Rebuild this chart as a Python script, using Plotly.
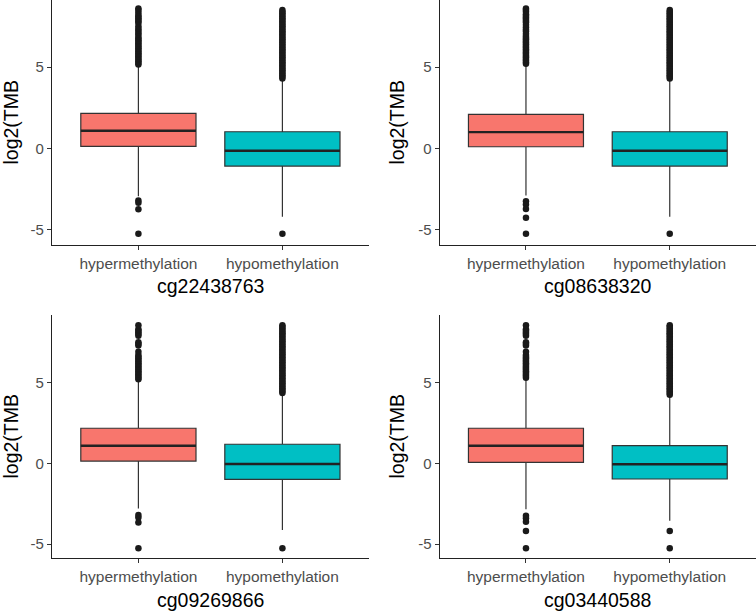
import plotly.graph_objects as go

# ---------------- data ----------------
panels = ["cg22438763", "cg08638320", "cg09269866", "cg03440588"]
groups = ["hypermethylation", "hypomethylation"]
colors = ["#F8766D", "#00BFC4"]

# box statistics per panel: [hyper, hypo]
q1 = [[0.12, -1.09], [0.10, -1.09], [0.14, -0.99], [0.06, -0.97]]
med = [[1.08, -0.15], [1.00, -0.15], [1.09, -0.04], [1.09, -0.06]]
q3 = [[2.15, 1.02], [2.09, 1.02], [2.17, 1.18], [2.17, 1.09]]
lowf = [[-2.95, -4.20], [-2.90, -4.20], [-2.80, -4.13], [-2.85, -3.55]]
upf = [[5.10, 4.25], [5.15, 4.20], [5.15, 4.30], [5.25, 4.22]]

# outliers per panel: [hyper, hypo]
out_p1_hyper = [5.15, 5.25, 5.35, 5.45, 5.55, 5.65, 5.75, 5.85, 5.95, 6.05, 6.15, 6.25,
                6.35, 6.45, 6.55, 6.65, 6.75, 6.85, 7.0, 7.1, 7.25, 7.35, 7.5, 7.7, 7.8,
                7.9, 8.0, 8.1, 8.2, 8.35, 8.5, 8.6, -3.2, -3.35, -3.75, -5.25]
out_p1_hypo = [4.3, 4.4, 4.5, 4.6, 4.7, 4.8, 4.9, 5.0, 5.1, 5.2, 5.3, 5.4, 5.5, 5.6,
               5.7, 5.8, 5.9, 6.0, 6.1, 6.2, 6.3, 6.4, 6.5, 6.6, 6.7, 6.8, 6.9, 7.0,
               7.1, 7.2, 7.3, 7.4, 7.5, 7.6, 7.7, 7.8, 7.9, 8.0, 8.1, 8.2, 8.3, 8.4,
               8.5, -5.25]
out_p2_hyper = [5.2, 5.3, 5.4, 5.5, 5.6, 5.7, 5.8, 5.9, 6.0, 6.1, 6.2, 6.3, 6.4, 6.5,
                6.6, 6.7, 6.8, 6.9, 7.05, 7.2, 7.3, 7.45, 7.6, 7.75, 7.85, 7.95, 8.05,
                8.15, 8.25, 8.4, 8.5, 8.6, -3.25, -3.45, -3.72, -4.27, -5.25]
out_p2_hypo = [4.3, 4.4, 4.5, 4.6, 4.7, 4.8, 4.9, 5.0, 5.1, 5.2, 5.3, 5.4, 5.5, 5.6,
               5.7, 5.8, 5.9, 6.0, 6.1, 6.2, 6.3, 6.4, 6.5, 6.6, 6.7, 6.8, 6.9, 7.0,
               7.1, 7.2, 7.3, 7.4, 7.5, 7.6, 7.7, 7.8, 7.9, 8.0, 8.1, 8.2, 8.3, 8.4,
               8.5, -5.25]
out_p3_hyper = [5.2, 5.3, 5.4, 5.5, 5.6, 5.7, 5.8, 5.9, 6.0, 6.1, 6.2, 6.3, 6.4, 6.5,
                6.6, 6.7, 6.9, 7.3, 7.4, 7.5, 7.9, 8.0, 8.1, 8.2, 8.3, 8.55,
                -3.2, -3.35, -3.67, -5.26]
out_p3_hypo = [4.35, 4.45, 4.55, 4.65, 4.75, 4.85, 4.95, 5.05, 5.15, 5.25, 5.35, 5.45,
               5.55, 5.65, 5.75, 5.85, 5.95, 6.05, 6.15, 6.25, 6.35, 6.45, 6.55, 6.65,
               6.75, 6.85, 6.95, 7.05, 7.15, 7.25, 7.35, 7.45, 7.55, 7.65, 7.75, 7.85,
               7.95, 8.05, 8.15, 8.25, 8.35, 8.45, 8.55, -5.26]
out_p4_hyper = [5.3, 5.4, 5.5, 5.6, 5.7, 5.8, 5.9, 6.0, 6.1, 6.2, 6.3, 6.4, 6.5, 6.6,
                6.7, 6.9, 7.3, 7.4, 7.5, 7.9, 8.0, 8.1, 8.2, 8.3, 8.55,
                -3.24, -3.4, -3.61, -4.19, -5.26]
out_p4_hypo = [4.25, 4.35, 4.45, 4.55, 4.65, 4.75, 4.85, 4.95, 5.05, 5.15, 5.25, 5.35,
               5.45, 5.55, 5.65, 5.75, 5.85, 5.95, 6.05, 6.15, 6.25, 6.35, 6.45, 6.55,
               6.65, 6.75, 6.85, 6.95, 7.05, 7.15, 7.25, 7.35, 7.45, 7.55, 7.65, 7.75,
               7.85, 7.95, 8.05, 8.15, 8.25, 8.35, 8.45, 8.55, -4.19, -5.26]
outliers = [[out_p1_hyper, out_p1_hypo], [out_p2_hyper, out_p2_hypo],
            [out_p3_hyper, out_p3_hypo], [out_p4_hyper, out_p4_hypo]]

y_tick_vals = [-5, 0, 5]
y_tick_text = ["-5", "0", "5"]
y_title = "log2(TMB"

# ---------------- layout geometry ----------------
W, H = 756, 611
xdoms = [[52 / W, 368.8 / W], [439.7 / W, 1.0], [52 / W, 368.8 / W], [439.7 / W, 1.0]]
ydoms = [[(H - 245) / H, 1.0], [(H - 245) / H, 1.0],
         [(H - 558) / H, (H - 315) / H], [(H - 558) / H, (H - 315) / H]]
yranges = [[-5.94, 9.12], [-5.94, 9.12], [-5.86, 9.18], [-5.86, 9.18]]

FONT = "Liberation Sans, Arial, sans-serif"
LINE = "#333333"

fig = go.Figure()
layout = dict(width=W, height=H, margin=dict(l=0, r=0, t=0, b=0),
              paper_bgcolor="white", plot_bgcolor="white", showlegend=False,
              font=dict(family=FONT))
annotations = []

for p in range(4):
    xa = "x" if p == 0 else f"x{p+1}"
    ya = "y" if p == 0 else f"y{p+1}"
    for g in range(2):
        pos = g + 1
        fig.add_trace(go.Box(
            x=[pos], q1=[q1[p][g]], median=[med[p][g]], q3=[q3[p][g]],
            lowerfence=[lowf[p][g]], upperfence=[upf[p][g]],
            width=0.8, fillcolor=colors[g], boxpoints=False,
            line=dict(color=LINE, width=1.2), whiskerwidth=0,
            xaxis=xa, yaxis=ya, hoverinfo="skip"))
        # thicker median line (ggplot fatten)
        fig.add_trace(go.Scatter(
            x=[pos - 0.4, pos + 0.4], y=[med[p][g], med[p][g]], mode="lines",
            line=dict(color="#222222", width=2.4), xaxis=xa, yaxis=ya,
            hoverinfo="skip"))
        fig.add_trace(go.Scatter(
            x=[pos] * len(outliers[p][g]), y=outliers[p][g], mode="markers",
            marker=dict(color="#1a1a1a", size=6.5, line=dict(width=0)),
            xaxis=xa, yaxis=ya, hoverinfo="skip"))

    xkey = "xaxis" if p == 0 else f"xaxis{p+1}"
    ykey = "yaxis" if p == 0 else f"yaxis{p+1}"
    layout[xkey] = dict(domain=xdoms[p], anchor=ya, range=[0.4, 2.6],
                        tickvals=[1, 2], ticktext=groups, showgrid=False,
                        zeroline=False, showline=True, linecolor="#222222",
                        linewidth=1.3, ticks="outside", ticklen=4,
                        tickcolor="#333333", tickwidth=1.1,
                        tickfont=dict(size=15.5, color="#4D4D4D", family=FONT))
    layout[ykey] = dict(domain=ydoms[p], anchor=xa, range=yranges[p],
                        tickvals=y_tick_vals, ticktext=y_tick_text,
                        showgrid=False, zeroline=False,
                        showline=True, linecolor="#222222", linewidth=1.3,
                        ticks="outside", ticklen=4, tickcolor="#333333",
                        tickwidth=1.1,
                        tickfont=dict(size=15, color="#4D4D4D", family=FONT))
    # axis titles
    xc = (xdoms[p][0] + xdoms[p][1]) / 2
    xt_y = 286 if p < 2 else 600
    annotations.append(dict(text=panels[p], xref="paper", yref="paper",
                            x=xc, y=(H - xt_y) / H, showarrow=False,
                            xanchor="center", yanchor="middle",
                            font=dict(size=19.5, color="black", family=FONT)))
    yt_x = 11 if p % 2 == 0 else 397
    yc = (ydoms[p][0] + ydoms[p][1]) / 2
    annotations.append(dict(text=y_title, xref="paper", yref="paper",
                            x=yt_x / W, y=yc, showarrow=False, textangle=-90,
                            xanchor="center", yanchor="middle",
                            font=dict(size=19.5, color="black", family=FONT)))

layout["annotations"] = annotations
fig.update_layout(**layout)
fig.write_html("out.html", config={"displayModeBar": False},
               post_script="document.body.style.margin='0px';"
                           "document.body.style.overflow='hidden';")
